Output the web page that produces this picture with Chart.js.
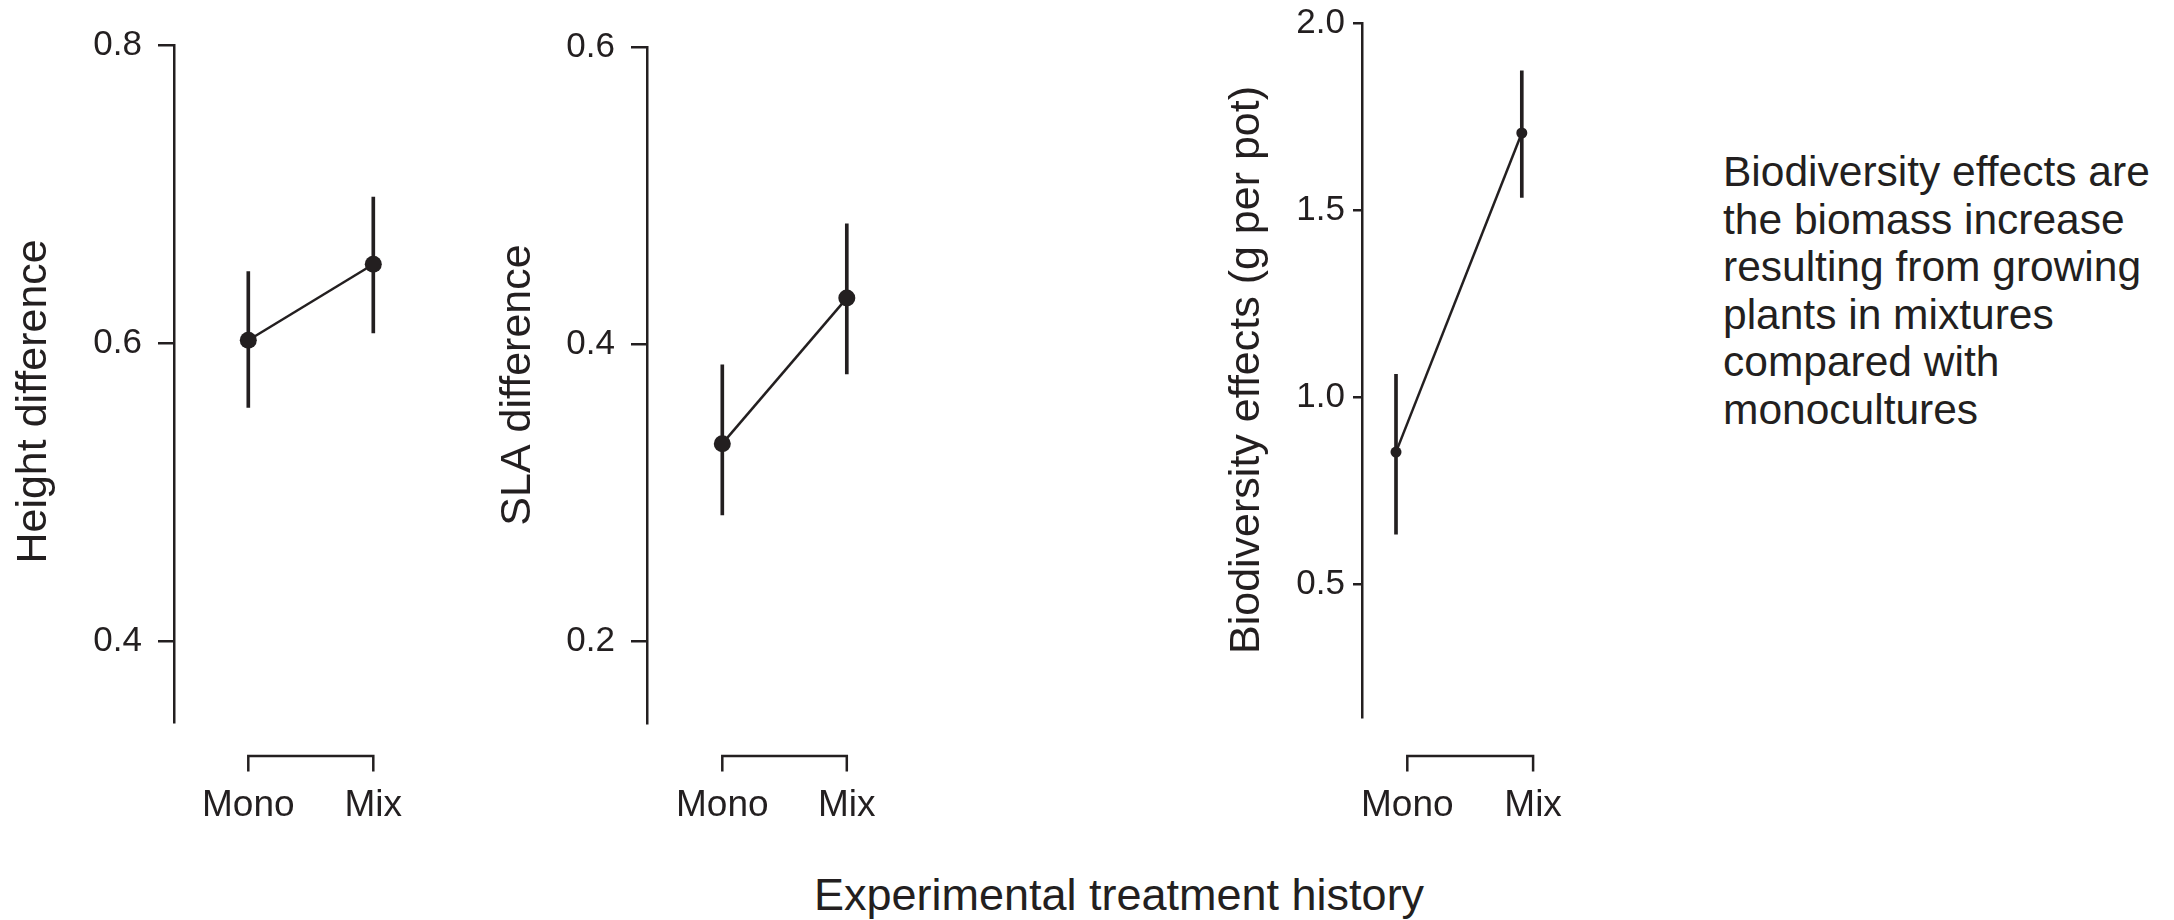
<!DOCTYPE html>
<html>
<head>
<meta charset="utf-8">
<script src="https://cdn.jsdelivr.net/npm/chart.js@4/dist/chart.umd.min.js"></script>
<style>
  html, body { margin:0; padding:0; background:#ffffff; width:2174px; height:920px; overflow:hidden; }
  body { position:relative; font-family:'Liberation Sans', Arial, Helvetica, sans-serif; color:#231f20; }
  canvas { position:absolute; top:0; }
  #xtitle { position:absolute; left:619px; width:1000px; top:872px; text-align:center; font-size:45px; line-height:45px; white-space:nowrap; }
  #note { position:absolute; left:1723px; top:148px; font-size:42.5px; line-height:47.5px; white-space:nowrap; }
</style>
</head>
<body>
<canvas id="c1"></canvas>
<canvas id="c2"></canvas>
<canvas id="c3"></canvas>
<div id="xtitle">Experimental treatment history</div>
<div id="note">Biodiversity effects are<br>the biomass increase<br>resulting from growing<br>plants in mixtures<br>compared with<br>monocultures</div>
<script>
// ---------- data ----------
const categories = ['Mono', 'Mix'];

const heightMean = [0.602, 0.653];
const heightLow  = [0.557, 0.607];
const heightHigh = [0.648, 0.698];
const heightTicks = [0.4, 0.6, 0.8];

const slaMean = [0.333, 0.431];
const slaLow  = [0.285, 0.380];
const slaHigh = [0.386, 0.481];
const slaTicks = [0.2, 0.4, 0.6];

const bioMean = [0.853, 1.706];
const bioLow  = [0.634, 1.534];
const bioHigh = [1.061, 1.872];
const bioTicks = [0.5, 1.0, 1.5, 2.0];

// ---------- style / layout ----------
const INK = '#231f20';
const FONT = "'Liberation Sans', Arial, Helvetica, sans-serif";
Chart.defaults.font.family = FONT;
Chart.defaults.color = INK;

const CANVAS_H = 860;
const LABEL_FONT = 37;
const LABEL_Y = 806;   // middle of x tick labels
const BRACKET_Y = 756; // bracket line

const bracketPlugin = {
  id: 'bracket',
  afterDraw(chart, args, opts) {
    const s = chart.scales.xl;
    const ctx = chart.ctx;
    const y0 = s.top + opts.gap;
    const x0 = s.getPixelForValue(0);
    const x1 = s.getPixelForValue(categories.length - 1);
    ctx.save();
    ctx.strokeStyle = INK;
    ctx.lineWidth = 2.5;
    ctx.lineJoin = 'miter';
    ctx.beginPath();
    ctx.moveTo(x0, y0 + opts.len);
    ctx.lineTo(x0, y0);
    ctx.lineTo(x1, y0);
    ctx.lineTo(x1, y0 + opts.len);
    ctx.stroke();
    ctx.restore();
  }
};

// layout of each panel (canvas-relative pixels)
const panels = [
  { id:'c1', left:0,    width:424, yWidth:174, ppu:125,   monoPx:248.3, labelPx:248.3, top:45, bottom:722,
    yMin:0.346, yMax:0.8, ticks:heightTicks, mean:heightMean, low:heightLow, high:heightHigh,
    yTitle:'Height difference   ', radius:8.5, tickLen:16, tickPad:16, titlePad:8 },
  { id:'c2', left:484,  width:412, yWidth:163, ppu:124.5, monoPx:238.3, labelPx:238.3, top:47, bottom:723,
    yMin:0.145, yMax:0.6, ticks:slaTicks, mean:slaMean, low:slaLow, high:slaHigh,
    yTitle:'SLA difference', radius:8.5, tickLen:16, tickPad:16, titlePad:8 },
  { id:'c3', left:1213, width:372, yWidth:149, ppu:125.8, monoPx:183,   labelPx:194.3, top:23, bottom:717,
    yMin:0.145, yMax:2.0, ticks:bioTicks, mean:bioMean, low:bioLow, high:bioHigh,
    yTitle:'Biodiversity effects (g per pot)', radius:5.5, tickLen:9, tickPad:8, titlePad:8 }
];

function makePanel(cfg) {
  const canvas = document.getElementById(cfg.id);
  const W = cfg.width;
  canvas.width = W;
  canvas.height = CANVAS_H;
  canvas.style.left = cfg.left + 'px';
  canvas.style.width = W + 'px';
  canvas.style.height = CANVAS_H + 'px';
  const idx = categories.map((c, i) => i);
  const xlHeight = CANVAS_H - cfg.bottom;
  const span = (W - cfg.yWidth) / cfg.ppu;
  const xMin0 = (cfg.yWidth - cfg.monoPx) / cfg.ppu;
  const xlMin0 = (cfg.yWidth - cfg.labelPx) / cfg.ppu;

  const chart = new Chart(canvas, {
    type: 'line',
    data: {
      datasets: [
        {
          type: 'line',
          data: idx.map(i => ({ x: i, y: cfg.mean[i] })),
          borderColor: INK, borderWidth: 2.5, tension: 0, fill: false,
          pointRadius: cfg.radius, pointHoverRadius: cfg.radius,
          pointBackgroundColor: INK, pointBorderWidth: 0
        },
        {
          type: 'bar',
          data: idx.map(i => ({ x: i, y: [cfg.low[i], cfg.high[i]] })),
          backgroundColor: INK, borderWidth: 0, barThickness: 3, grouped: false
        }
      ]
    },
    options: {
      responsive: false, animation: false, devicePixelRatio: 1, events: [],
      layout: { padding: { top: cfg.top, bottom: 0, left: 0, right: 0 } },
      plugins: {
        legend: { display: false }, tooltip: { enabled: false },
        bracket: { gap: BRACKET_Y - cfg.bottom, len: 15.5 }
      },
      scales: {
        x: { type: 'linear', display: false, min: xMin0, max: xMin0 + span, offset: false, grid: { offset: false } },
        xl: {
          type: 'linear', position: 'bottom', axis: 'x',
          min: xlMin0, max: xlMin0 + span, offset: false,
          afterBuildTicks: s => { s.ticks = idx.map(v => ({ value: v })); },
          afterFit: s => { s.height = xlHeight; s.paddingLeft = 0; s.paddingRight = 0; },
          ticks: {
            callback: v => categories[v] ?? '',
            color: INK, font: { family: FONT, size: LABEL_FONT },
            padding: 0, maxRotation: 0, autoSkip: false
          },
          // invisible tick marks only used to push the labels down below the bracket
          grid: { display: true, drawOnChartArea: false, drawTicks: true,
                  tickLength: LABEL_Y - cfg.bottom - LABEL_FONT * 0.6, color: 'rgba(0,0,0,0)', offset: false },
          border: { display: false }
        },
        y: {
          type: 'linear', min: cfg.yMin, max: cfg.yMax, beginAtZero: false,
          afterBuildTicks: s => { s.ticks = cfg.ticks.map(v => ({ value: v })); },
          afterFit: s => { s.width = cfg.yWidth; s.paddingTop = 0; s.paddingBottom = 0; },
          ticks: { callback: v => Number(v).toFixed(1), color: INK, font: { family: FONT, size: 35 }, padding: cfg.tickPad },
          grid: { display: true, drawOnChartArea: false, drawTicks: true, tickLength: cfg.tickLen, color: INK, lineWidth: 2.5 },
          border: { display: true, color: INK, width: 2.5 },
          title: { display: true, text: cfg.yTitle, color: INK, font: { family: FONT, size: 43 }, padding: { top: cfg.titlePad, bottom: 0 } }
        }
      }
    },
    plugins: [bracketPlugin]
  });

  // second pass: fit the x ranges to the chart area actually obtained
  const ca = chart.chartArea;
  const w = (ca.right - ca.left) / cfg.ppu;
  const xo = chart.options.scales.x, xlo = chart.options.scales.xl;
  xo.min = (ca.left - cfg.monoPx) / cfg.ppu;   xo.max = xo.min + w;
  xlo.min = (ca.left - cfg.labelPx) / cfg.ppu; xlo.max = xlo.min + w;
  chart.update();
}

panels.forEach(makePanel);
</script>
</body>
</html>
